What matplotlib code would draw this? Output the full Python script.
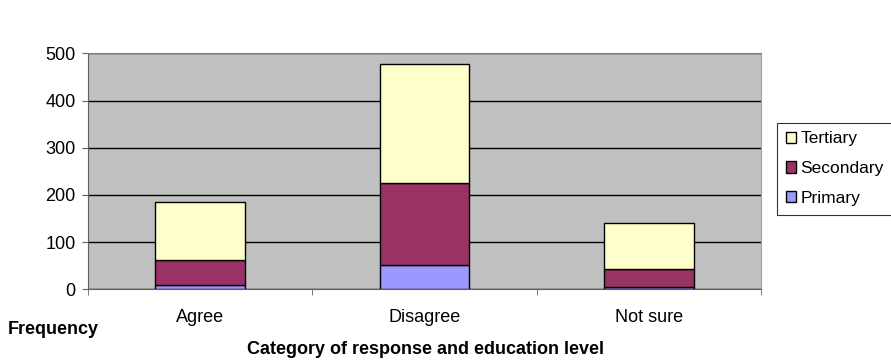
import matplotlib.pyplot as plt
import numpy as np

plt.rcParams['font.family'] = ['Liberation Sans', 'DejaVu Sans']

categories = ['Agree', 'Disagree', 'Not sure']
primary = [10, 51, 5]
secondary = [52, 174, 37]
tertiary = [124, 252, 99]
series_names = ['Primary', 'Secondary', 'Tertiary']
colors = ['#9999FF', '#993366', '#FFFFCC']


def plot_stacked(output_filename='out.png'):
    fig = plt.figure(figsize=(8.91, 3.63), dpi=100)
    ax = fig.add_axes([0.0988, 0.203, 0.7552, 0.650])
    ax.set_facecolor('#C0C0C0')

    x = np.arange(len(categories))
    bottom = np.zeros(len(categories))
    handles = []
    for vals, name, col in zip([primary, secondary, tertiary], series_names, colors):
        b = ax.bar(x, vals, width=0.4, bottom=bottom, color=col,
                   edgecolor='black', linewidth=1.0, label=name, zorder=3)
        handles.append(b)
        bottom += np.array(vals)

    ax.set_xlim(-0.5, 2.5)
    ax.set_ylim(0, 500)
    ax.set_yticks(np.arange(0, 501, 100))
    ax.yaxis.grid(True, color='black', linewidth=1.0, zorder=1)
    ax.set_axisbelow(True)

    # category ticks sit between the groups
    ax.set_xticks(x)
    ax.set_xticklabels(categories, fontsize=13)
    ax.set_xticks([-0.5, 0.5, 1.5, 2.5], minor=True)
    ax.tick_params(axis='x', which='major', length=0, pad=14)
    ax.tick_params(axis='x', which='minor', length=4, color='#606060')
    ax.tick_params(axis='y', length=4, pad=5, color='#606060', labelsize=13)

    for side in ['left', 'bottom']:
        ax.spines[side].set_color('#606060')
    ax.spines['top'].set_color('#808080')
    ax.spines['right'].set_color('#A0A0A0')

    fig.text(0.009, 0.091, 'Frequency', fontsize=13, fontweight='bold',
             va='center')
    fig.text(0.477, 0.036, 'Category of response and education level',
             fontsize=13, fontweight='bold', ha='center', va='center')

    leg = fig.legend(handles[::-1], series_names[::-1], loc='upper left',
                     bbox_to_anchor=(0.872, 0.662), fontsize=12.5,
                     frameon=True, fancybox=False, handlelength=0.6,
                     handleheight=0.6, handletextpad=0.25, labelspacing=0.85,
                     borderpad=0.5, borderaxespad=0)
    leg.get_frame().set_edgecolor('black')
    leg.get_frame().set_linewidth(0.8)

    fig.savefig(output_filename, dpi=100)


if __name__ == "__main__":
    plot_stacked()
